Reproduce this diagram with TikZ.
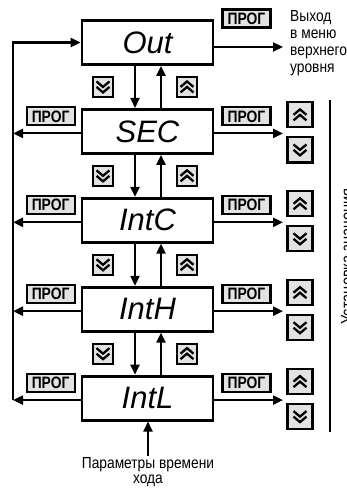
\documentclass[tikz,border=0pt]{standalone}
\usepackage{fontspec}
\setmainfont{Liberation Sans}
\newfontfamily\narrowfont[FakeStretch=0.86]{Liberation Sans}
\newfontfamily\progfont[FakeStretch=0.84]{Liberation Sans}
\usetikzlibrary{arrows.meta,calc}
\definecolor{btngray}{RGB}{226,226,226}
\begin{document}
\begin{tikzpicture}[x=1pt,y=-1pt,
  state/.style={draw, line width=2.8pt, minimum width=131pt, minimum height=44pt, inner sep=0pt,
    font=\fontsize{31}{31}\selectfont\itshape},
  arr/.style={line width=2.2pt, -{Triangle[length=10pt,width=9pt]}},
  prog/.style={draw, line width=2.2pt, fill=btngray, minimum width=48pt, minimum height=18pt,
    inner sep=0pt, font=\progfont\fontsize{16.5}{16.5}\selectfont\bfseries},
  keybtn/.style={draw, line width=2.2pt, fill=btngray, minimum width=#1, minimum height=#1, inner sep=0pt},
  chev/.style={line width=2.3pt, line join=miter},
  dnkey/.style={keybtn=#1, path picture={\begin{scope}[shift={(path picture bounding box.center)}, scale=#1/20]
      \draw[chev] (-6.5,-5.5)--(0,0)--(6.5,-5.5) (-6.5,0)--(0,5.5)--(6.5,0);\end{scope}}},
  upkey/.style={keybtn=#1, path picture={\begin{scope}[shift={(path picture bounding box.center)}, scale=#1/20]
      \draw[chev] (-6.5,5.5)--(0,0)--(6.5,5.5) (-6.5,0)--(0,-5.5)--(6.5,0);\end{scope}}},
  lbl/.style={font=\narrowfont\fontsize{16}{17}\selectfont, inner sep=0pt}
]
\useasboundingbox (0,0) rectangle (347,489);

% state boxes
\foreach \n [count=\i] in {Out,SEC,IntC,IntH,IntL}
  \node[state] (\n) at (147.5, {42.5+88.9*(\i-1)}) {\n};

\coordinate (lx) at (13,0);
\coordinate (rx) at (283,0);

% vertical transitions with keys
\foreach \a/\b in {Out/SEC, SEC/IntC, IntC/IntH, IntH/IntL} {
  \draw[arr] ([xshift=-12.5pt]\a.south) -- ([xshift=-12.5pt]\b.north);
  \draw[arr] ([xshift=13.5pt]\b.north) -- ([xshift=13.5pt]\a.south);
  \path (\a.south) -- (\b.north) node[midway, xshift=-44.5pt, dnkey=20] (d-\a) {};
  \path (\a.south) -- (\b.north) node[midway, xshift=39.5pt, upkey=20] (u-\a) {};
}

% left and right exits of the lower boxes
\foreach \n in {SEC,IntC,IntH,IntL} {
  \coordinate (\n-m) at ([yshift=-2pt]\n.center);
  \coordinate (\n-l) at (\n-m -| lx);
  \coordinate (\n-r) at (\n-m -| rx);
  \draw[arr] (\n-m -| \n.west) -- (\n-l);
  \draw[arr] (\n-m -| \n.east) -- (\n-r);
  \node[prog] (pl-\n) at ($(\n.west)+(-30,-15)$) {ПРОГ};
  \node[prog] (pr-\n) at ($(\n.east)+(32,-15)$) {ПРОГ};
  \node[upkey=25] (ru-\n) at ($(\n-r)+(17,-18.5)$) {};
  \node[dnkey=25] (rd-\n) at ($(\n-r)+(17,16.5)$) {};
}

% return line to Out
\draw[arr] (IntL-l) |- (Out.west);

% exit from Out
\coordinate (Out-m) at ([yshift=-4.5pt]Out.east);
\coordinate (Out-r) at (Out-m -| rx);
\draw[arr] (Out-m) -- (Out-r);
\node[prog] (pr-Out) at ($(Out.east)+(32,-24)$) {ПРОГ};
\node[lbl, anchor=north west, align=left] (exit) at (290,10) {Выход\\в меню\\верхнего\\уровня};

% right bracket line and rotated label
\coordinate (vt) at (330,100);
\coordinate (vb) at (330,432);
\draw[line width=1.6pt] (vt) -- (vb);
\node[lbl, rotate=90, anchor=north, font=\narrowfont\fontsize{17}{17}\selectfont] (ust) at (341,256.5) {Установка значения};

% bottom input
\node[lbl, align=center, anchor=north, inner sep=1.5pt, font=\narrowfont\fontsize{16}{15}\selectfont] (par) at (148,456) {Параметры времени\\хода};
\draw[arr] (par.north) -- (par.north |- IntL.south);
\end{tikzpicture}
\end{document}
